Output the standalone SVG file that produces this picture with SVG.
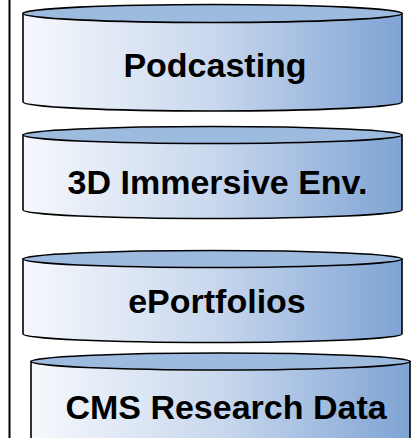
<svg xmlns="http://www.w3.org/2000/svg" width="413" height="438" viewBox="0 0 413 438">
<defs>
<linearGradient id="body" x1="0" y1="0" x2="1" y2="0">
<stop offset="0" stop-color="#f6f8fc"/>
<stop offset="0.5" stop-color="#c9d8ee"/>
<stop offset="1" stop-color="#7fa4d4"/>
</linearGradient>
</defs>
<style>
.body{fill:url(#body);stroke:#000;stroke-width:1.6}
.top{fill:#9dbadf;stroke:#000;stroke-width:1.6}
.lbl{font-family:"Liberation Sans",Arial,sans-serif;font-weight:bold;font-size:34px;fill:#000;text-anchor:middle}
</style>
<line x1="9.5" y1="0" x2="9.5" y2="438" stroke="#000" stroke-width="2"/>
<g id="connectors"></g>
<g id="podcasting">
<path class="body" d="M23 13.5 L23 102 A189.5 9 0 0 0 402 102 L402 13.5 Z"/>
<ellipse class="top" cx="212.5" cy="13.5" rx="189.5" ry="9"/>
<text class="lbl" x="215" y="77">Podcasting</text>
</g>
<g id="immersive">
<path class="body" d="M23 135 L23 210 A189.5 8.5 0 0 0 402 210 L402 135 Z"/>
<ellipse class="top" cx="212.5" cy="135" rx="189.5" ry="8.5"/>
<text class="lbl" x="217.5" y="194">3D Immersive Env.</text>
</g>
<g id="eportfolios">
<path class="body" d="M23 259 L23 334 A189.5 8.5 0 0 0 402 334 L402 259 Z"/>
<ellipse class="top" cx="212.5" cy="259" rx="189.5" ry="8.5"/>
<text class="lbl" x="217" y="313">ePortfolios</text>
</g>
<g id="cms">
<path class="body" d="M31 361.5 L31 460 A189.5 8.5 0 0 0 410 460 L410 361.5 Z"/>
<ellipse class="top" cx="220.5" cy="361.5" rx="189.5" ry="8.5"/>
<text class="lbl" x="226" y="419">CMS Research Data</text>
</g>
</svg>
